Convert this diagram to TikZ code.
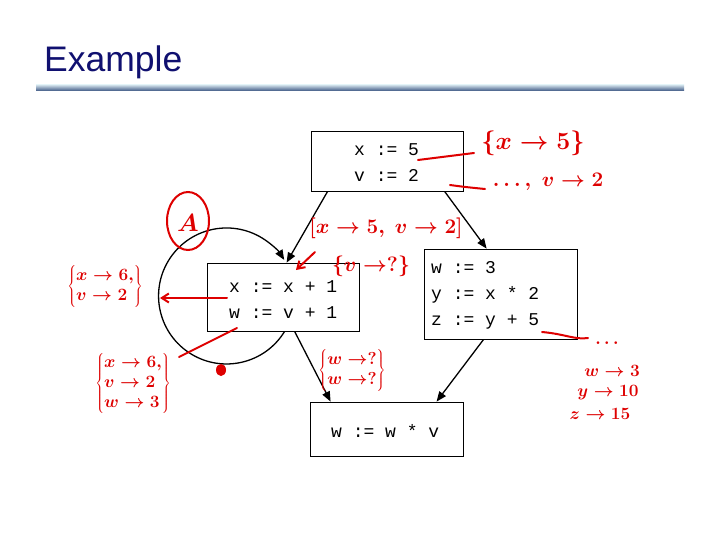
\documentclass[tikz,border=0pt]{standalone}
\usepackage{fontspec}
\usetikzlibrary{arrows.meta,calc}
\newfontfamily\arialf{Liberation Sans}
\newfontfamily\monof{Liberation Mono}
\definecolor{titleblue}{RGB}{16,16,112}
\definecolor{hand}{RGB}{222,0,0}
\definecolor{rulelight}{RGB}{205,222,232}
\definecolor{ruledark}{RGB}{60,85,130}
\begin{document}
\begin{tikzpicture}[x=1pt,y=-1pt,
 box/.style={draw=black,line width=0.8pt,rectangle,inner sep=0pt},
 code/.style={font=\monof\fontsize{18}{26}\selectfont,anchor=west,inner sep=0pt,align=left},
 flow/.style={line width=1.3pt,-{Triangle[length=10pt,width=8pt]}},
 ink/.style={draw=hand,line width=2pt,line cap=round},
 inkarrow/.style={ink,-{Straight Barb[length=7pt,width=9pt]}},
 note/.style={text=hand,inner sep=0pt,font=\boldmath\fontsize{22}{24}\selectfont},
 smallnote/.style={text=hand,inner sep=0pt,font=\boldmath\fontsize{18}{20}\selectfont},
]
\useasboundingbox[fill=white] (0,0) rectangle (720,540);
% title and rule
\node[anchor=base west,font=\arialf\fontsize{35.5}{40}\selectfont,text=titleblue,inner sep=0pt] (title) at (44,72) {Example};
\shade[top color=rulelight,bottom color=ruledark] (36,85) rectangle (684,91);
% boxes
\node[box,minimum width=152pt,minimum height=60pt] (b1) at (387,161) {};
\node[box,minimum width=152pt,minimum height=68pt] (b2) at (283,297) {};
\node[box,minimum width=153pt,minimum height=90pt] (b3) at (500.5,294) {};
\node[box,minimum width=153pt,minimum height=54pt] (b4) at (386.5,429) {};
\node[code] (t1) at (354,163) {x := 5\\v := 2};
\node[code] (t2) at (229,300) {x := x + 1\\w := v + 1};
\node[code] (t3) at (431,295) {w := 3\\y := x * 2\\z := y + 5};
\node[code] (t4) at (331,431) {w := w * v};
% control flow
\draw[flow] ($(b1.south west)+(17,0)$) -- ($(b2.north west)+(80,0)$);
\draw[flow] ($(b1.south west)+(134,0)$) -- ($(b3.north west)+(63,0)$);
\draw[flow] ($(b2.south west)+(78,0)$) arc[start angle=31.4,end angle=328,radius=68];
\draw[flow] ($(b2.south west)+(88,0)$) -- ($(b4.north west)+(21,0)$);
\draw[flow] ($(b3.south west)+(60,0)$) -- ($(b4.north west)+(127,0)$);
% handwritten annotations
\node[note,font=\boldmath\fontsize{25}{27}\selectfont] (n1) at (533,143) {$\{x\to 5\}$};
\draw[ink] (418,160) -- (474,153);
\node[note] (n2) at (548,182) {$\ldots,\ v\to 2$};
\draw[ink] (450,185) .. controls (465,187) .. (485,189);
\draw[ink] (188,221) ellipse[x radius=21,y radius=29];
\node[note,font=\boldmath\fontsize{30}{32}\selectfont] (nA) at (188,223) {$A$};
\node[note,font=\boldmath\fontsize{20}{22}\selectfont] (n3) at (386,228) {$[x\to 5,\ v\to 2]$};
\node[note,font=\boldmath\fontsize{20}{22}\selectfont] (n4) at (371,266) {$\{v\to ?\}$};
\draw[inkarrow] (315,252) -- (296,270);
\draw[inkarrow] (227,298) -- (160,298);
\node[smallnote] (n5) at (105,286) {$\left\{\begin{array}{@{}l@{}}x\to 6,\\ v\to 2\end{array}\right\}$};
\draw[ink] (237,328) -- (179,357);
\fill[hand] (221,370) ellipse[x radius=5,y radius=6];
\node[smallnote] (n6) at (133,383) {$\left\{\begin{array}{@{}l@{}}x\to 6,\\ v\to 2\\ w\to 3\end{array}\right\}$};
\node[smallnote] (n7) at (352,370) {$\left\{\begin{array}{@{}l@{}}w\to ?\\ w\to ?\end{array}\right\}$};
\draw[ink] (542,332) .. controls (565,334) and (575,340) .. (588,338);
\node[smallnote] (n8) at (607,343) {$\ldots$};
\node[smallnote] (n9) at (612,371) {$w\to 3$};
\node[smallnote] (n10) at (608,393) {$y\to 10$};
\node[smallnote] (n11) at (600,414) {$z\to 15$};
\end{tikzpicture}
\end{document}
